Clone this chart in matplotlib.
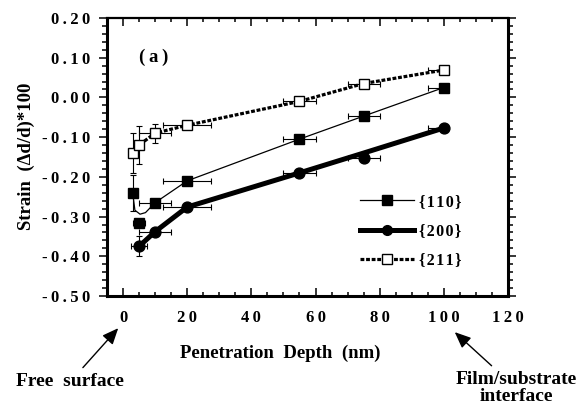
import numpy as np
import matplotlib
matplotlib.use("Agg")
import matplotlib.pyplot as plt
from matplotlib.ticker import FixedLocator, FixedFormatter, MultipleLocator

plt.rcParams['font.family'] = ['Liberation Serif', 'DejaVu Serif']
plt.rcParams['font.weight'] = 'bold'

TS = "\u2009"  # thin space used as letter spacing
HS = "\u200a"  # hair space

# ---- data ----
depth_110 = [3, 5, 10, 20, 55, 75, 100]
strain_110 = [-0.24, -0.315, -0.265, -0.21, -0.105, -0.047, 0.025]
xerr_lo_110 = [np.nan, 2, 5, 7.5, 5, 5, 5]
xerr_hi_110 = [np.nan, 2, 5, 7.5, 5, 5, 0]
yerr_110 = [0.045, np.nan, np.nan, np.nan, np.nan, np.nan, np.nan]
# smooth curve drawn through the {110} data
curve_x_110 = [3, 3.7, 5.3, 7, 10, 20, 55, 75, 100]
curve_y_110 = [-0.24, -0.284, -0.294, -0.29, -0.265, -0.21, -0.105, -0.047, 0.025]

depth_200 = [5, 10, 20, 55, 75, 100]
strain_200 = [-0.375, -0.338, -0.276, -0.19, -0.153, -0.077]
xerr_lo_200 = [2.5, 5, 7.5, 5, 5, 5]
xerr_hi_200 = [2.5, 5, 7.5, 5, 5, 0]
yerr_200 = [0.025, np.nan, np.nan, np.nan, np.nan, np.nan]
curve_x_200 = [5, 10, 20, 55, 75, 100]
curve_y_200 = [-0.375, -0.338, -0.276, -0.19, -0.14, -0.077]

depth_211 = [3, 5, 10, 20, 55, 75, 100]
strain_211 = [-0.14, -0.12, -0.09, -0.07, -0.01, 0.035, 0.069]
xerr_lo_211 = [np.nan, np.nan, 5, 7.5, 5, 5, 5]
xerr_hi_211 = [np.nan, np.nan, 5, 7.5, 5, 5, 0]
yerr_211 = [0.05, 0.047, 0.024, np.nan, np.nan, np.nan, np.nan]

labels = ["{110}", "{200}", "{211}"]

xticks = [0, 20, 40, 60, 80, 100, 120]
xticklabels = ["0", "20", "40", "60", "80", "100", "120"]
yticks = [0.20, 0.10, 0.00, -0.10, -0.20, -0.30, -0.40, -0.50]
yticklabels = ["0.20", "0.10", "0.00", "-0.10", "-0.20", "-0.30", "-0.40", "-0.50"]


def spaced(s, sp=TS):
    return sp.join(list(s))


fig = plt.figure(figsize=(5.81, 4.04), dpi=100)
W, H = 581, 404
ax = fig.add_axes([107 / W, 1 - 296 / H, (508 - 107) / W, (296 - 18) / H])
ax.set_xlim(-5, 120)
ax.set_ylim(-0.50, 0.20)

eb_kw = dict(fmt='none', ecolor='black', elinewidth=0.8, capsize=2.2, capthick=0.8, zorder=2)

# {110}
ax.errorbar(depth_110, strain_110, xerr=[xerr_lo_110, xerr_hi_110], **eb_kw)
ax.errorbar(depth_110, strain_110, yerr=yerr_110, **eb_kw)
ax.plot(curve_x_110, curve_y_110, color='black', lw=0.9, zorder=3)
ax.plot(depth_110, strain_110, ls='none', marker='s', ms=7.2, color='black', zorder=4)

# {200}
ax.errorbar(depth_200, strain_200, xerr=[xerr_lo_200, xerr_hi_200], **eb_kw)
ax.errorbar(depth_200, strain_200, yerr=yerr_200, **eb_kw)
ax.plot(curve_x_200, curve_y_200, color='black', lw=3.6, zorder=3, solid_capstyle='round')
ax.plot(depth_200, strain_200, ls='none', marker='o', ms=7.8, color='black', zorder=4)

# {211}
ax.errorbar(depth_211, strain_211, xerr=[xerr_lo_211, xerr_hi_211], **eb_kw)
ax.errorbar(depth_211, strain_211, yerr=yerr_211, **eb_kw)
ax.plot(depth_211, strain_211, color='black', lw=2.3, ls=(0, (1.2, 0.55)), zorder=3)
ax.plot(depth_211, strain_211, ls='none', marker='s', ms=7.2, mfc='white', mec='black', mew=1.0, zorder=4)

# legend handles
h1, = ax.plot([], [], color='black', lw=0.9, marker='s', ms=6.5)
h2, = ax.plot([], [], color='black', lw=3.6, marker='o', ms=7)
h3, = ax.plot([], [], color='black', lw=2.3, ls=(0, (1.2, 0.55)), marker='s', ms=6.5, mfc='white', mec='black', mew=1.0)
leg = ax.legend([h1, h2, h3], [spaced(l, HS) for l in labels], loc='upper left',
                bbox_to_anchor=(360 / W, 1 - 194 / H), bbox_transform=fig.transFigure,
                frameon=False, borderpad=0, borderaxespad=0, handlelength=3.4,
                handletextpad=0.3, labelspacing=0.82, prop=dict(size=11.5, weight='bold'))

# ticks
ax.xaxis.set_major_locator(FixedLocator(xticks))
ax.xaxis.set_major_formatter(FixedFormatter([spaced(t) for t in xticklabels]))
ax.xaxis.set_minor_locator(MultipleLocator(5))
ax.yaxis.set_major_locator(FixedLocator(yticks))
ax.yaxis.set_major_formatter(FixedFormatter([spaced(t) for t in yticklabels]))
ax.yaxis.set_minor_locator(MultipleLocator(0.02))

ax.tick_params(axis='x', which='both', direction='in', top=True, bottom=True, width=1.1)
ax.tick_params(axis='x', which='major', length=5.5, pad=10, labelsize=12)
ax.tick_params(axis='x', which='minor', length=3.2)
ax.tick_params(axis='y', which='both', direction='out', left=True, right=True, width=1.1)
ax.tick_params(axis='y', which='major', length=6, pad=6, labelsize=12)
ax.tick_params(axis='y', which='minor', length=3.6)
for lab in ax.get_xticklabels() + ax.get_yticklabels():
    lab.set_fontweight('bold')

for side, lw in [('left', 2.2), ('bottom', 2.2), ('right', 2.2), ('top', 1.6)]:
    ax.spines[side].set_linewidth(lw)

# labels
fig.text(26 / W, 1 - 156 / H, "Strain  (\u0394d/d)*100", rotation=90, ha='center', va='center',
         fontsize=13.5, fontweight='bold')
fig.text(280 / W, 1 - 353 / H, "Penetration  Depth  (nm)", ha='center', va='center',
         fontsize=13.5, fontweight='bold')
ax.text(9.7, 0.10, "(" + TS + "a" + TS + ")", ha='center', va='center', fontsize=13.5, fontweight='bold')

# annotations
ax.annotate("Free  surface", xy=(-1.5, -0.581), xycoords='data',
            xytext=(70 / W, 1 - 382 / H), textcoords='figure fraction',
            ha='center', va='center', fontsize=14, fontweight='bold', annotation_clip=False,
            arrowprops=dict(arrowstyle='-|>,head_length=0.7,head_width=0.3', color='black', lw=1.0,
                            shrinkA=3, shrinkB=0))
ax.annotate("Film/substrate\ninterface", xy=(103.4, -0.591), xycoords='data',
            xytext=(516 / W, 1 - 388 / H), textcoords='figure fraction',
            ha='center', va='center', multialignment='center', linespacing=0.95,
            fontsize=14, fontweight='bold', annotation_clip=False,
            arrowprops=dict(arrowstyle='-|>,head_length=0.7,head_width=0.3', color='black', lw=1.0,
                            shrinkA=3, shrinkB=0))

fig.savefig("out.png", dpi=100)
